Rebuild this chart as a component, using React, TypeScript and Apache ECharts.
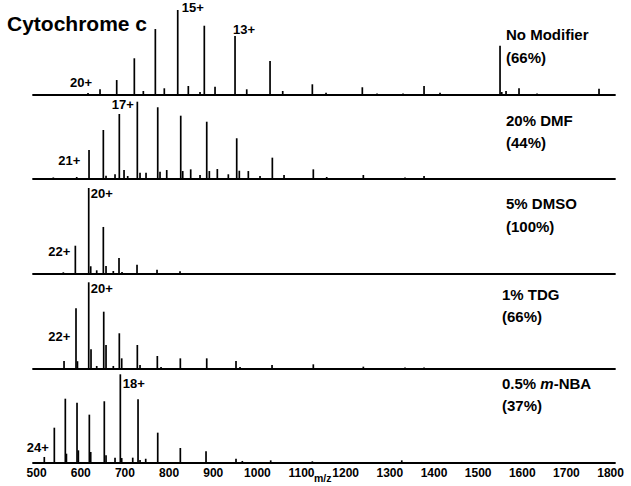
import React, { useEffect, useRef } from "react";
import * as echarts from "echarts";

// ---- axis ----
const tickValues = [500, 600, 700, 800, 900, 1000, 1100, 1200, 1300, 1400, 1500, 1600, 1700, 1800];
const xMin = 491.8;
const xMax = 1810;

// ---- panel texts ----
const panelNames = ["No Modifier", "20% DMF", "5% DMSO", "1% TDG", "0.5% {i|m}-NBA"];
const panelYields = ["(66%)", "(44%)", "(100%)", "(66%)", "(37%)"];

// ---- spectra (m/z, relative intensity %) ----
const noModMz = [616.4, 643.6, 681.4, 721.3, 741.7, 768.9, 789.2, 819.6, 843.6, 870.1, 879.8, 904.1, 949.4, 975.9, 1028.7, 1057.4, 1124.5, 1155.5, 1237.7, 1271, 1329.9, 1377.5, 1413.7, 1549.6, 1553.5, 1563.2, 1592.6, 1633.4, 1773.8];
const noModInt = [2.4, 6.7, 17.6, 43.2, 4.7, 77.6, 7.9, 100, 10.6, 3.5, 81.5, 9.8, 69.4, 6.7, 40, 4.7, 12.6, 2.7, 9.1, 1.8, 1.8, 10.6, 2.7, 58, 3.5, 4.7, 7.9, 1.8, 7.4];

const dmfMz = [537.8, 590.8, 618.7, 651.1, 657.2, 677.6, 687.3, 698, 706.3, 728.1, 734.2, 747.8, 774.3, 779.5, 794.7, 826.4, 830.9, 849, 870.1, 885.3, 891.2, 909.3, 934.2, 953.2, 959.1, 979.5, 1006, 1033.9, 1060.4, 1126.7, 1157, 1240, 1334.4, 1377.5];
const dmfInt = [2, 2.6, 37.5, 63.4, 4.3, 6.1, 84.1, 11.6, 3.9, 100, 8.2, 8.2, 92.8, 9.4, 11.6, 81.9, 10.3, 12.5, 5.2, 74.1, 10.3, 12.9, 6.1, 52.7, 10.7, 10.3, 3.9, 27.6, 5.2, 12.5, 2.6, 5.2, 2, 3.9];

const dmsoMz = [560.5, 587.7, 618, 622.5, 636.1, 651.1, 657.2, 673.7, 686.6, 693.4, 727.4, 772.7, 824.8];
const dmsoInt = [2, 32.9, 100, 9, 4.3, 54.7, 9.3, 3.5, 18.6, 2.3, 10.8, 5, 3.1];

const tdgMz = [562.1, 589.2, 592.5, 618, 623.2, 636.1, 652, 657.2, 673.7, 687.3, 692.7, 728.1, 734.2, 773.4, 781.8, 825.5, 885.3, 951.6, 960.7, 1033.2, 1126.7, 1240, 1334.4, 1377.5];
const tdgInt = [9.2, 70, 9, 100, 22.7, 3.5, 66.1, 27.7, 3.5, 41.2, 12.3, 27.7, 4.6, 15, 2.3, 12.3, 12.3, 9.2, 2.3, 4.6, 5.4, 2.7, 1.7, 1.7];

const nbaMz = [517.4, 540.1, 565, 567.5, 591.5, 594.5, 619.4, 622.5, 653.3, 657.2, 677.6, 689.6, 692.7, 717.7, 729.7, 734.2, 747.1, 774.3, 825.5, 883.7, 951.6, 965.9, 1030.2, 1124.5, 1327];
const nbaInt = [6.8, 39.8, 72.5, 10.5, 68, 14.3, 54.5, 12.4, 69.6, 8.7, 6, 100, 5.6, 6, 71.8, 3.4, 4.8, 34.2, 16.9, 13.2, 4.8, 2.3, 3, 1.9, 3];

const spectraMz = [noModMz, dmfMz, dmsoMz, tdgMz, nbaMz];
const spectraInt = [noModInt, dmfInt, dmsoInt, tdgInt, nbaInt];

// charge-state annotations: [text, x, y]
const chargeLabels: [string, number, number][] = [
  ["15+", 181.7, 7.5],
  ["13+", 233, 29.7],
  ["20+", 70, 82],
  ["17+", 111.7, 104.5],
  ["21+", 58.3, 160],
  ["20+", 90.7, 193.7],
  ["22+", 48.3, 251],
  ["20+", 90.7, 288.7],
  ["22+", 48.3, 336.3],
  ["18+", 122.7, 383.8],
  ["24+", 26.7, 447],
];

// layout (px)
const baselines = [95, 179, 274, 369, 463];
const heights = [85, 77.3, 86, 86.7, 88.7];
const nameX = [506, 506, 506, 502, 502];
const nameY = [34.5, 120, 203.5, 294, 383.5];
const yieldY = [57, 142, 226, 316, 405.5];

const FONT = "'Liberation Sans', Arial, Helvetica, sans-serif";

export default function App() {
  const ref = useRef<HTMLDivElement>(null);
  useEffect(() => {
    if (!ref.current) return;
    const chart = echarts.init(ref.current, undefined, { renderer: "svg" });
    const grids = baselines.map((b, i) => ({
      left: 33,
      right: 16,
      top: b - heights[i],
      height: heights[i],
    }));
    const xAxes = baselines.map((_, i) => ({
      type: "value",
      gridIndex: i,
      min: xMin,
      max: xMax,
      splitLine: { show: false },
      axisTick: { show: false },
      axisLine: { show: true, onZero: false, lineStyle: { color: "#000", width: 1.8 } },
      axisLabel:
        i === 4
          ? {
              show: true,
              customValues: tickValues,
              formatter: (v: number) => String(Math.round(v)),
              color: "#000",
              fontWeight: "bold",
              fontSize: 12,
              fontFamily: FONT,
              margin: 4,
            }
          : { show: false },
    }));
    const yAxes = baselines.map((_, i) => ({
      type: "value",
      gridIndex: i,
      min: 0,
      max: 100,
      show: false,
    }));
    const series = spectraMz.map((mz, i) => ({
      type: "bar",
      xAxisIndex: i,
      yAxisIndex: i,
      barWidth: 1.7,
      itemStyle: { color: "#000" },
      data: mz.map((m, j) => [m, spectraInt[i][j]]),
      silent: true,
    }));
    const graphics: any[] = [
      {
        type: "text",
        x: 7,
        y: 23,
        style: {
          text: "Cytochrome c",
          fontSize: 21,
          fontWeight: "bold",
          fontFamily: FONT,
          fill: "#000",
          verticalAlign: "middle",
          align: "left",
        },
      },
      {
        type: "text",
        x: 314,
        y: 478,
        style: {
          text: "m/z",
          fontSize: 10.5,
          fontWeight: "bold",
          fontFamily: FONT,
          fill: "#000",
          verticalAlign: "middle",
          align: "left",
        },
      },
    ];
    panelNames.forEach((n, i) => {
      graphics.push({
        type: "text",
        x: nameX[i],
        y: nameY[i],
        style: {
          text: n,
          fontSize: 15,
          fontWeight: "bold",
          fontFamily: FONT,
          fill: "#000",
          verticalAlign: "middle",
          align: "left",
          rich: {
            i: { fontSize: 15, fontWeight: "bold", fontStyle: "italic", fontFamily: FONT, fill: "#000" },
          },
        },
      });
      graphics.push({
        type: "text",
        x: nameX[i],
        y: yieldY[i],
        style: {
          text: panelYields[i],
          fontSize: 15,
          fontWeight: "bold",
          fontFamily: FONT,
          fill: "#000",
          verticalAlign: "middle",
          align: "left",
        },
      });
    });
    chargeLabels.forEach(([t, x, y]) => {
      graphics.push({
        type: "text",
        x,
        y,
        style: {
          text: t,
          fontSize: 13,
          fontWeight: "bold",
          fontFamily: FONT,
          fill: "#000",
          verticalAlign: "middle",
          align: "left",
        },
      });
    });
    chart.setOption({
      animation: false,
      backgroundColor: "#fff",
      grid: grids,
      xAxis: xAxes,
      yAxis: yAxes,
      series,
      graphic: graphics,
    } as any);
    return () => chart.dispose();
  }, []);
  return (
    <div
      ref={ref}
      style={{ position: "fixed", left: 0, top: 0, width: 631, height: 486, background: "#fff" }}
    />
  );
}
